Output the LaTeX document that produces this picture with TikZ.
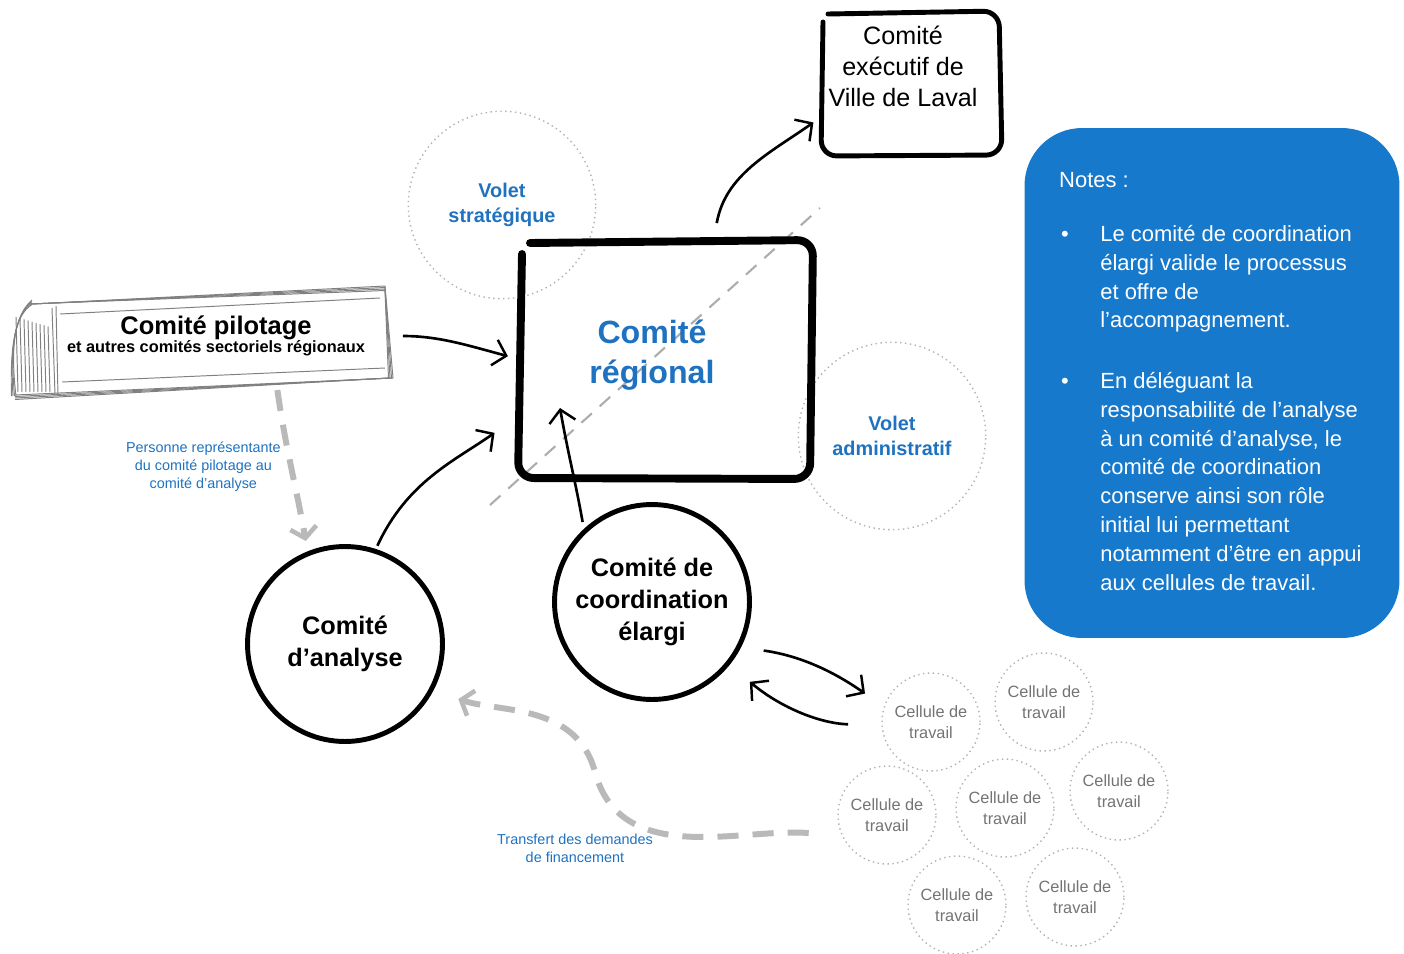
\documentclass[tikz,border=0pt]{standalone}
\usepackage{fontspec}
\setmainfont{Liberation Sans}
\usetikzlibrary{arrows.meta,positioning,shapes}
\definecolor{bleunotes}{RGB}{22,121,204}
\definecolor{bleutexte}{RGB}{30,114,192}
\definecolor{grispointille}{RGB}{185,185,185}

\begin{document}
\begin{tikzpicture}[x=0.02cm,y=0.02cm,
	fleche/.style={line width=1.5pt, -{Straight Barb[length=7pt,width=15pt,line width=1.4pt]}},
	pointille/.style={grispointille, line width=3.4pt, dash pattern=on 12pt off 8pt, -{Straight Barb[length=6pt,width=15pt,line width=2.6pt]}},
	cadre/.style={line width=4.5pt, rounded corners=9pt, line cap=round, line join=round},
	grandcercle/.style={circle, draw, line width=2.8pt, minimum size=3.9cm, align=center, font=\bfseries\fontsize{14.4}{18}\selectfont},
	volet/.style={circle, draw=gray!60, dotted, line width=0.8pt, minimum size=3.75cm, align=center, text=bleutexte, font=\bfseries\fontsize{11.3}{14}\selectfont},
	cellule/.style={circle, draw=gray!60, dotted, line width=0.8pt, minimum size=1.96cm, inner sep=0pt, align=center, text=black!55, font=\fontsize{9.3}{12}\selectfont},
	petitbleu/.style={text=bleutexte, align=center, font=\fontsize{8.2}{10.2}\selectfont},
	notetexte/.style={text=white, align=left, anchor=north west, inner sep=0pt, font=\fontsize{12.5}{16.4}\selectfont},
	crayon/.style={draw=black!50, line width=0.55pt}]
	\useasboundingbox (0,0) rectangle (1404,-954);

	% volets en pointille
	\node[volet] (strat) at (502,-205) {Volet\\stratégique};
	\node[volet] (admin) at (892,-436) {Volet\\administratif};
	\draw[grispointille!80!gray, line width=1.2pt, dash pattern=on 8pt off 6pt] (490,-505) -- (820,-208);

	% comite regional
	\node[minimum width=6cm, minimum height=4.9cm] (reg) at (665,-358) {};
	\draw[cadre] (522,-254) -- (518,-478) -- (810,-479) -- (813,-240) -- (530,-243);
	\node[text=bleutexte, align=center, font=\bfseries\fontsize{18.3}{23}\selectfont] (regtitre) at (652,-355) {Comité\\régional};
	\coordinate (regin) at (560,-408);

	% comite executif
	\node[minimum width=3.66cm, minimum height=2.92cm] (exe) at (911,-85) {};
	\draw[cadre, line width=2.8pt] (823,-22) -- (821,-156) -- (1002,-155) -- (999,-11) -- (828,-14);
	\node[align=center, font=\fontsize{14.3}{17.6}\selectfont] (exetitre) at (903,-66) {Comité\\exécutif de\\Ville de Laval};

	% comite pilotage (esquisse)
	\foreach \d in {0,1.5,-1.5,3}{
		\draw[crayon] (30+\d,-304) -- (385,-289+\d) -- (390+\d,-378) -- (15,-398+\d);
		\draw[crayon] (32,-303+\d) .. controls (15,-315) and (10,-345) .. (13+\d,-396);
	}
	\draw[crayon] (56,-306) -- (58,-396);
	\draw[crayon] (52,-308) -- (55,-394);
	\draw[crayon] (62,-382) -- (385,-368);
	\draw[crayon] (60,-314) -- (380,-298);
	\foreach \x in {16,20,...,48}
		\draw[crayon] (\x,-312-\x*0.3) -- (\x+2,-392);
	\node[minimum width=6.9cm, minimum height=1.8cm, align=center, font=\bfseries] (pilot) at (216,-336)
		{{\fontsize{14.5}{17}\selectfont Comité pilotage}\\[-2pt]{\fontsize{9.3}{11}\selectfont et autres comités sectoriels régionaux}};

	% comites en cercle
	\node[grandcercle] (ana) at (345,-644) {Comité\\d’analyse};
	\node[grandcercle] (coord) at (652,-602) {Comité de\\coordination\\élargi};

	% cellules de travail
	\foreach \nom/\x/\y in {c1/931/722, c2/1044/702, c3/887/815, c4/1005/808, c5/1119/791, c6/957/905, c7/1075/897}
		\node[cellule] (\nom) at (\x,-\y) {Cellule de\\travail};

	% fleches
	\draw[fleche, shorten <=8pt, shorten >=4pt] (pilot.east) to[out=0,in=165] (reg.west);
	\draw[fleche, shorten <=2pt, shorten >=14pt] (ana.72) to[out=65,in=215] (reg.202);
	\draw[fleche, shorten <=4pt] (coord.133) to[out=100,in=-80] (regin);
	\draw[fleche, shorten <=7pt, shorten >=4pt] (reg.68) to[out=80,in=215] (exe.200);
	\draw[fleche, shorten <=13pt, shorten >=13pt] (coord.-27) to[out=-8,in=145] (c1.162);
	\draw[fleche, shorten <=19pt, shorten >=15pt] (c1.184) to[out=178,in=-40] (coord.-39);

	% fleches pointillees
	\draw[pointille, shorten <=5pt, shorten >=6pt] (pilot.-37) to[out=-82,in=100]
		node[midway, left=0.03cm, petitbleu] {Personne représentante\\du comité pilotage au\\comité d’analyse} (ana.112);
	\coordinate (virage) at (595,-772);
	\draw[pointille, shorten <=19pt, shorten >=15pt] (c3.205) to[out=175,in=-75] (virage) to[out=105,in=-18] (ana.-28);
	\node[petitbleu] (transfert) at (575,-848) {Transfert des demandes\\de financement};

	% notes
	\node[fill=bleunotes, rounded corners=1.15cm, minimum width=7.5cm, minimum height=10.2cm] (notes) at (1212,-383) {};
	\node[text=white, anchor=west, font=\fontsize{12.5}{15}\selectfont] (notestitre) at (1053,-180) {Notes :};
	\node[text=white, font=\fontsize{12.5}{15}\selectfont] (puce1) at (1065,-236) {•};
	\node[text=white, font=\fontsize{12.5}{15}\selectfont] (puce2) at (1065,-383) {•};
	\node[notetexte] (note1) at (1100,-225) {Le comité de coordination\\élargi valide le processus\\et offre de\\l’accompagnement.};
	\node[notetexte] (note2) at (1100,-372) {En déléguant la\\responsabilité de l’analyse\\à un comité d’analyse, le\\comité de coordination\\conserve ainsi son rôle\\initial lui permettant\\notamment d’être en appui\\aux cellules de travail.};
\end{tikzpicture}
\end{document}
